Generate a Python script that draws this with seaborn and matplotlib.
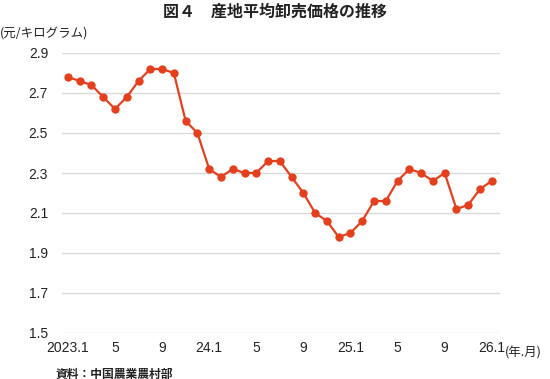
import matplotlib
matplotlib.use("Agg")
import matplotlib.pyplot as plt
import seaborn as sns
import pandas as pd
from matplotlib import font_manager

title = "図４　産地平均卸売価格の推移"
y_unit = "(元/キログラム)"
x_unit = "(年.月)"
source = "資料：中国農業農村部"

months = ["2023.1", "2", "3", "4", "5", "6", "7", "8", "9", "10", "11", "12",
          "24.1", "2", "3", "4", "5", "6", "7", "8", "9", "10", "11", "12",
          "25.1", "2", "3", "4", "5", "6", "7", "8", "9", "10", "11", "12",
          "26.1"]
prices = [2.78, 2.76, 2.74, 2.68, 2.62, 2.68, 2.76, 2.82, 2.82, 2.80, 2.56, 2.50,
          2.32, 2.28, 2.32, 2.30, 2.30, 2.36, 2.36, 2.28, 2.20, 2.10, 2.06, 1.98,
          2.00, 2.06, 2.16, 2.16, 2.26, 2.32, 2.30, 2.26, 2.30, 2.12, 2.14, 2.22,
          2.26]
tick_labels = ["2023.1", "5", "9", "24.1", "5", "9", "25.1", "5", "9", "26.1"]
y_ticks = [1.5, 1.7, 1.9, 2.1, 2.3, 2.5, 2.7, 2.9]

sns.set_theme(style="white")
avail = {f.name for f in font_manager.fontManager.ttflist}
num_font = "Liberation Sans Narrow" if "Liberation Sans Narrow" in avail else "Liberation Sans"
cjk = "Noto Sans CJK JP"
plt.rcParams['font.family'] = [cjk, 'DejaVu Sans']

df = pd.DataFrame({"idx": range(len(months)), "price": prices})

fig = plt.figure(figsize=(5.5, 3.79), dpi=100)
ax = fig.add_axes([62/550, 46/379, 438/550, 280/379])
color = "#E5401E"
sns.lineplot(data=df, x="idx", y="price", ax=ax, color=color, linewidth=1.6,
             marker="o", markersize=6, markeredgewidth=0, markerfacecolor=color,
             clip_on=False, zorder=3)

ax.set_xlim(-0.5, 36.7)
ax.set_ylim(1.5, 2.9)
ax.set_yticks(y_ticks)
ax.set_yticklabels([f"{v:.1f}" for v in y_ticks], fontfamily=num_font, fontsize=10, color="#222222")
tick_pos = [i for i in range(0, len(months), 4)]
ax.set_xticks(tick_pos)
ax.set_xticklabels(tick_labels, fontfamily=num_font, fontsize=10, color="#222222")
ax.tick_params(axis="both", length=0)
ax.tick_params(axis="y", pad=10)
ax.tick_params(axis="x", pad=6)
ax.grid(axis="y", color="#d9d9d9", linewidth=1.0)
ax.grid(axis="x", visible=False)
for s in ax.spines.values():
    s.set_visible(False)
ax.set_xlabel("")
ax.set_ylabel("")

fig.text(0.5, 1 - 12/379, title, ha="center", va="center", fontsize=11.5, fontweight="bold", color="#222222")
fig.text(0.0, 1 - 33/379, y_unit, ha="left", va="center", fontsize=9, color="#222222")
fig.text(505/550, 1 - 353/379, x_unit, ha="left", va="center", fontsize=9, color="#222222")
fig.text(56/550, 1 - 374/379, source, ha="left", va="center", fontsize=8.5, fontweight="bold", color="#222222")

fig.savefig("out.png", dpi=100)
